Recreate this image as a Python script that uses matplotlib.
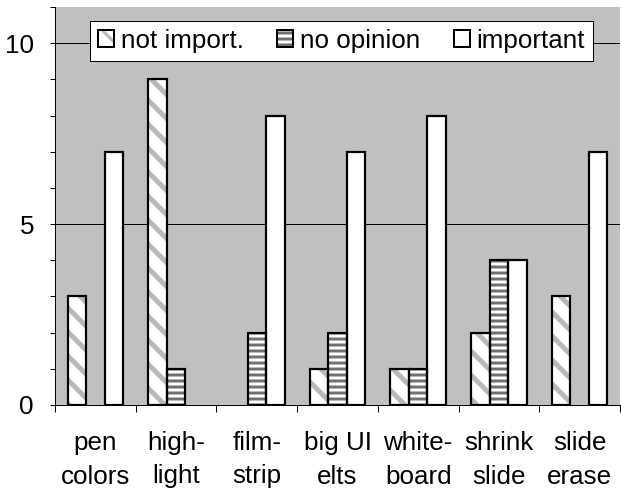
import matplotlib.pyplot as plt
from matplotlib.patches import Patch
import numpy as np

plt.rcParams['font.family'] = ['Liberation Sans', 'DejaVu Sans']
plt.rcParams['hatch.linewidth'] = 3

# data
categories = ["pen\ncolors", "high-\nlight", "film-\nstrip", "big UI\nelts",
              "white-\nboard", "shrink\nslide", "slide\nerase"]
not_important = [3, 9, 0, 1, 1, 2, 3]
no_opinion = [0, 1, 2, 2, 1, 4, 0]
important = [7, 0, 8, 7, 8, 4, 7]

# dpi 72 so hatch spacing matches the original (1 hatch cell = 72 px)
fig = plt.figure(figsize=(621 / 72, 493 / 72), dpi=72)
ax = fig.add_axes([55 / 621, 88 / 493, 565 / 621, 398 / 493])
ax.set_facecolor('#c0c0c0')

x = np.arange(len(categories))
w = 0.23
series = [
    (not_important, 'not import.', '\\', '#b8b8b8', 5),
    (no_opinion, 'no opinion', '--', '#707070', 3),
    (important, 'important', None, 'white', 3),
]
handles = []
labels = []
for i, (vals, lab, hatch, hc, hlw) in enumerate(series):
    off = (i - 1) * w
    with plt.rc_context({'hatch.linewidth': hlw}):
        # fill + hatch, then black outline on top
        ax.bar(x + off, vals, w, color='white', edgecolor=hc, hatch=hatch,
               linewidth=0, zorder=2)
        fillp = Patch(facecolor='white', edgecolor=hc, hatch=hatch,
                      linewidth=0)
    edge = ax.bar(x + off, vals, w, color='none', edgecolor='black',
                  linewidth=2.2, zorder=3)
    for p, v in zip(edge.patches, vals):
        if v == 0:
            p.set_linewidth(0)
    handles.append((fillp,
                    Patch(facecolor='none', edgecolor='black', linewidth=2)))
    labels.append(lab)

ax.set_xlim(-0.5, len(categories) - 0.5)
ax.set_ylim(0, 11)
ax.set_yticks([0, 5, 10])
ax.set_yticks(range(0, 12), minor=True)
ax.yaxis.grid(True, which='major', color='black', linewidth=1)
ax.set_axisbelow(True)
ax.tick_params(axis='y', which='both', length=5, width=1, labelsize=26)
ax.tick_params(axis='y', which='major', pad=16)

ax.set_xticks(np.arange(len(categories) + 1) - 0.5)
ax.set_xticklabels([])
ax.set_xticks(x, minor=True)
ax.set_xticklabels(categories, minor=True, fontsize=26, linespacing=1.5)
ax.tick_params(axis='x', which='major', length=7, width=1)
ax.tick_params(axis='x', which='minor', length=0, pad=26)

for s in ['top', 'right']:
    ax.spines[s].set_visible(False)
for s in ['left', 'bottom']:
    ax.spines[s].set_linewidth(1)

leg = ax.legend(handles, labels, loc='center', bbox_to_anchor=(0.507, 0.915),
                ncol=3, fontsize=26, frameon=True, fancybox=False,
                framealpha=1, handlelength=0.62, handleheight=0.62,
                handletextpad=0.25, columnspacing=1.3, borderpad=0.32,
                edgecolor='black')
leg.get_frame().set_linewidth(1)
leg.set_zorder(5)

fig.savefig('out.png', dpi=72)
